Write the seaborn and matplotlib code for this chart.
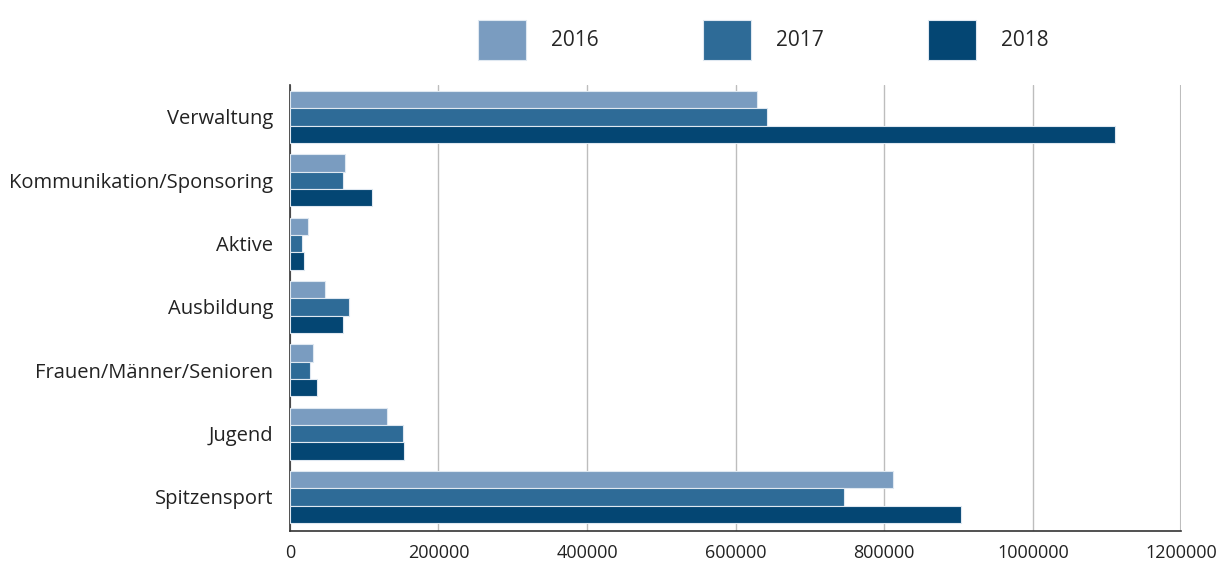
"""
Horizontal grouped bar chart: expenses per area, 2016-2018
"""

import pandas as pd
import seaborn as sns
import matplotlib.pyplot as plt

categories = ["Verwaltung", "Kommunikation/Sponsoring", "Aktive", "Ausbildung",
              "Frauen/Männer/Senioren", "Jugend", "Spitzensport"]
years = ["2016", "2017", "2018"]
values_2016 = [629000, 74000, 24000, 47000, 31000, 131000, 812000]
values_2017 = [642000, 71000, 16000, 79000, 27000, 152000, 746000]
values_2018 = [1110000, 110000, 19000, 71000, 36000, 154000, 904000]
colors = ["#7a9cc0", "#2e6b97", "#044673"]


def make_frame():
    rows = []
    for year, vals in zip(years, [values_2016, values_2017, values_2018]):
        for cat, v in zip(categories, vals):
            rows.append({"Bereich": cat, "Jahr": year, "Betrag": v})
    return pd.DataFrame(rows)


def draw(data):
    sns.set_style("white")
    plt.rcParams['font.family'] = ['Open Sans', 'DejaVu Sans']
    fig = plt.figure(figsize=(12.23, 5.65), dpi=100)
    ax = fig.add_axes([0.237, 0.060, 0.729, 0.789])

    sns.barplot(data=data, x="Betrag", y="Bereich", hue="Jahr", order=categories,
                hue_order=years, palette=colors, saturation=1, orient="h",
                errorbar=None, width=0.82, edgecolor="#dfe8f1", linewidth=0.8,
                ax=ax, zorder=3)

    ax.set_xlim(0, 1200000)
    ax.set_ylim(6.54, -0.5)
    ax.set_xticks(range(0, 1200001, 200000))
    ax.set_xticklabels([str(t) for t in range(0, 1200001, 200000)])
    ax.xaxis.grid(True, color="#bdbdbd", linewidth=1, zorder=0)
    ax.yaxis.grid(False)
    ax.set_axisbelow(True)
    ax.set_xlabel("")
    ax.set_ylabel("")
    ax.tick_params(axis="x", length=0, pad=9, labelsize=13, colors="#222222")
    ax.tick_params(axis="y", length=0, pad=12, labelsize=14.5, colors="#222222")
    for side in ["top", "right"]:
        ax.spines[side].set_visible(False)
    ax.spines["left"].set_color("#333333")
    ax.spines["bottom"].set_color("#333333")
    ax.spines["left"].set_linewidth(1.2)
    ax.spines["bottom"].set_linewidth(1.2)
    # right-most gridline at 1200000
    ax.axvline(1200000, color="#bdbdbd", linewidth=1.5, zorder=0)

    handles, labels = ax.get_legend_handles_labels()
    ax.get_legend().remove()
    fig.legend(handles, labels, loc="center", bbox_to_anchor=(0.624, 0.929), ncol=3,
               frameon=False, fontsize=15, handlelength=2.3, handleheight=2.6,
               handletextpad=1.2, columnspacing=5.0)

    fig.savefig("out.png", dpi=100)


if __name__ == "__main__":
    draw(make_frame())
